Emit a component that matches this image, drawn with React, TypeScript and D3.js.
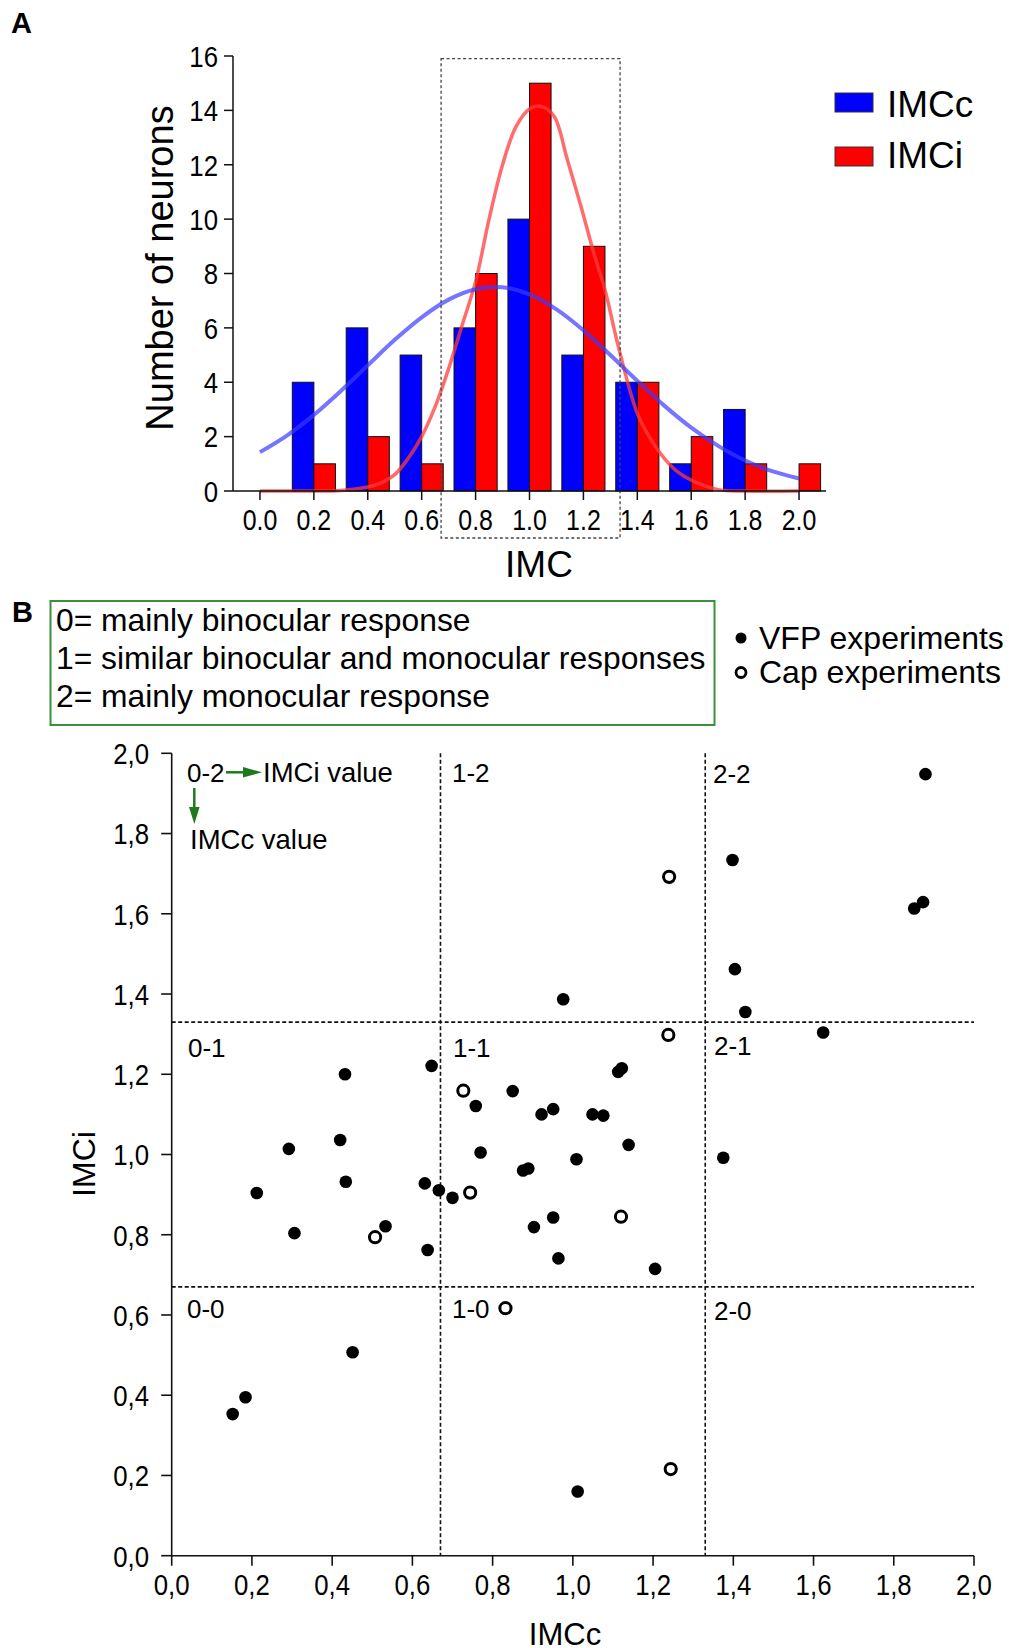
import React from "react";
import * as d3 from "d3";

// ---- Panel A: histogram of IMC values ----
const bins = [0.0, 0.2, 0.4, 0.6, 0.8, 1.0, 1.2, 1.4, 1.6, 1.8, 2.0];
const imccCounts = [0, 4, 6, 5, 6, 10, 5, 4, 1, 3, 0];
const imciCounts = [0, 1, 2, 1, 8, 15, 9, 4, 2, 1, 1];
const histYTicks = [0, 2, 4, 6, 8, 10, 12, 14, 16];

// fitted curves
const imccFitX = [0, 0.1, 0.2, 0.3, 0.4, 0.5, 0.6, 0.7, 0.8, 0.9, 1.0, 1.1, 1.2, 1.3, 1.4, 1.5, 1.6, 1.7, 1.8, 1.9, 2.0];
const imccFitY = [1.43, 2.04, 2.8, 3.68, 4.62, 5.56, 6.39, 7.04, 7.42, 7.49, 7.23, 6.68, 5.91, 5.0, 4.05, 3.14, 2.33, 1.66, 1.12, 0.73, 0.46];
const imciFitX = [0, 0.2, 0.3, 0.4, 0.45, 0.5, 0.55, 0.6, 0.65, 0.7, 0.75, 0.8, 0.85, 0.9, 0.95, 1.0, 1.04, 1.09, 1.14, 1.19, 1.24, 1.28, 1.33, 1.4, 1.45, 1.5, 1.55, 1.6, 1.7, 1.8, 2.0];
const imciFitY = [0, 0, 0.02, 0.15, 0.3, 0.6, 1.2, 2.0, 3.1, 4.5, 6.1, 7.7, 10.0, 12.0, 13.4, 14.05, 14.15, 13.8, 12.2, 10.5, 8.7, 7.4, 5.3, 2.85, 1.9, 1.2, 0.7, 0.4, 0.05, 0, 0];

// ---- Panel B: IMCc vs IMCi scatter ----
const vfpX = [1.879, 1.398, 1.873, 1.851, 1.404, 0.976, 1.43, 1.624, 0.432, 0.648, 0.758, 0.85, 0.922, 0.951, 0.292, 0.42, 0.77, 1.009, 0.212, 0.434, 0.631, 0.666, 0.7, 0.876, 0.889, 0.306, 0.533, 0.638, 0.903, 0.951, 0.964, 1.113, 1.122, 1.049, 1.076, 1.139, 1.375, 1.205, 0.152, 0.184, 0.451, 1.012];
const vfpY = [1.948, 1.734, 1.629, 1.613, 1.462, 1.387, 1.355, 1.304, 1.2, 1.221, 1.121, 1.158, 1.1, 1.113, 1.014, 1.036, 1.005, 0.988, 0.904, 0.932, 0.928, 0.911, 0.892, 0.96, 0.965, 0.804, 0.821, 0.762, 0.819, 0.843, 0.741, 1.206, 1.215, 1.1, 1.097, 1.024, 0.992, 0.715, 0.353, 0.395, 0.507, 0.16];
const capX = [1.24, 1.238, 0.727, 0.744, 0.507, 1.12, 0.832, 1.244];
const capY = [1.692, 1.298, 1.159, 0.905, 0.794, 0.845, 0.617, 0.216];
const scatterTicks = [0, 0.2, 0.4, 0.6, 0.8, 1.0, 1.2, 1.4, 1.6, 1.8, 2.0];
const thresholds = [0.67, 1.33];
const legendLines = [
  "0= mainly binocular response",
  "1= similar binocular and monocular responses",
  "2= mainly monocular response",
];

const SANS = "'Liberation Sans', Arial, sans-serif";
const GREEN = "#1f7a1f";

// condensed tick label (the original uses a narrow face)
function Tick({ x, y, anchor, size, children, dy }: any) {
  return (
    <g transform={`translate(${x},${y}) scale(0.86,1)`}>
      <text x={0} y={0} dy={dy} textAnchor={anchor} fontSize={size}>
        {children}
      </text>
    </g>
  );
}

export default function App() {
  const W = 1009;
  const H = 1648;

  // histogram scales
  const hx = d3.scaleLinear().domain([-0.1, 2.1]).range([233, 826]);
  const hy = d3.scaleLinear().domain([0, 16]).range([491, 56]);
  const barW = 0.08;

  const fitLine = d3
    .line<[number, number]>()
    .x((d) => hx(d[0]))
    .y((d) => hy(d[1]))
    .curve(d3.curveCatmullRom);
  const imccPath = fitLine(imccFitX.map((x, i) => [x, imccFitY[i]]))!;
  const imciPath = fitLine(imciFitX.map((x, i) => [x, imciFitY[i]]))!;

  // scatter scales
  const sx = d3.scaleLinear().domain([0, 2]).range([171.7, 974]);
  const sy = d3.scaleLinear().domain([0, 2]).range([1555.7, 753.3]);
  const comma = (v: number) => v.toFixed(1).replace(".", ",");

  const quadLabels = [
    { t: "0-2", x: 187, y: 782 },
    { t: "1-2", x: 452, y: 782 },
    { t: "2-2", x: 713, y: 783 },
    { t: "0-1", x: 188, y: 1057 },
    { t: "1-1", x: 453, y: 1057 },
    { t: "2-1", x: 714, y: 1055 },
    { t: "0-0", x: 187, y: 1318 },
    { t: "1-0", x: 452, y: 1318 },
    { t: "2-0", x: 714, y: 1320 },
  ];

  return (
    <svg
      width={W}
      height={H}
      style={{ position: "absolute", left: 0, top: 0, display: "block", background: "#fff" }}
      fontFamily={SANS}
    >
      <rect width={W} height={H} fill="#fff" />

      {/* ---------- Panel A ---------- */}
      <text x={11} y={33} fontSize={29} fontWeight="bold">A</text>

      {/* bars */}
      {bins.map((b, i) => (
        <g key={"bar" + i}>
          {imccCounts[i] > 0 && (
            <rect
              x={hx(b - barW)}
              y={hy(imccCounts[i])}
              width={hx(b) - hx(b - barW)}
              height={hy(0) - hy(imccCounts[i])}
              fill="#0000ff"
              stroke="#111"
              strokeWidth={1}
            />
          )}
          {imciCounts[i] > 0 && (
            <rect
              x={hx(b)}
              y={hy(imciCounts[i])}
              width={hx(b + barW) - hx(b)}
              height={hy(0) - hy(imciCounts[i])}
              fill="#ff0000"
              stroke="#111"
              strokeWidth={1}
            />
          )}
        </g>
      ))}

      {/* fitted curves */}
      <path d={imciPath} fill="none" stroke="#ff3b3b" strokeOpacity={0.75} strokeWidth={3.5} />
      <path d={imccPath} fill="none" stroke="#3b3bff" strokeOpacity={0.7} strokeWidth={4} />

      {/* dashed selection box */}
      <rect
        x={hx(0.672)}
        y={hy(15.9)}
        width={hx(1.336) - hx(0.672)}
        height={538 - hy(15.9)}
        fill="none"
        stroke="#444"
        strokeWidth={1.3}
        strokeDasharray="3,2.5"
      />

      {/* axes */}
      <line x1={hx.range()[0]} x2={hx.range()[0]} y1={hy(16)} y2={hy(0)} stroke="#111" strokeWidth={1.5} />
      <line x1={hx.range()[0]} x2={hx.range()[1]} y1={hy(0)} y2={hy(0)} stroke="#111" strokeWidth={1.5} />
      {histYTicks.map((t) => (
        <g key={"hyt" + t}>
          <line x1={224} x2={233} y1={hy(t)} y2={hy(t)} stroke="#111" strokeWidth={1.5} />
          <Tick x={218} y={hy(t)} dy="0.36em" anchor="end" size={30}>
            {t}
          </Tick>
        </g>
      ))}
      {bins.map((t) => (
        <g key={"hxt" + t}>
          <line x1={hx(t)} x2={hx(t)} y1={hy(0)} y2={hy(0) + 9} stroke="#111" strokeWidth={1.5} />
          <Tick x={hx(t)} y={530} anchor="middle" size={29}>
            {t.toFixed(1)}
          </Tick>
        </g>
      ))}
      <text x={539} y={577} textAnchor="middle" fontSize={37}>IMC</text>
      <text transform="translate(173,268) rotate(-90)" textAnchor="middle" fontSize={38}>
        Number of neurons
      </text>

      {/* legend A */}
      <rect x={835} y={93} width={38} height={19} fill="#0000ff" stroke="#333" strokeWidth={1} />
      <text x={887} y={117} fontSize={37}>IMCc</text>
      <rect x={835} y={147} width={38} height={19} fill="#ff0000" stroke="#333" strokeWidth={1} />
      <text x={887} y={168} fontSize={37}>IMCi</text>

      {/* ---------- Panel B ---------- */}
      <text x={12} y={622} fontSize={29} fontWeight="bold">B</text>

      <rect x={50.5} y={601} width={664} height={124} fill="none" stroke="#3a8f3a" strokeWidth={2} />
      {legendLines.map((l, i) => (
        <text key={"ll" + i} x={56} y={631 + i * 38} fontSize={31.8}>
          {l}
        </text>
      ))}

      <circle cx={741} cy={638} r={5.5} fill="#000" />
      <text x={759} y={648.5} fontSize={32}>VFP experiments</text>
      <circle cx={741} cy={672.5} r={5} fill="#fff" stroke="#000" strokeWidth={2.8} />
      <text x={759} y={683} fontSize={32}>Cap experiments</text>

      {/* quadrant dashed lines */}
      {thresholds.map((t) => (
        <g key={"th" + t}>
          <line x1={sx(t)} x2={sx(t)} y1={sy(2)} y2={sy(0)} stroke="#111" strokeWidth={1.6} strokeDasharray="4,2.5" />
          <line x1={sx(0)} x2={sx(2)} y1={sy(t)} y2={sy(t)} stroke="#111" strokeWidth={1.6} strokeDasharray="4,2.5" />
        </g>
      ))}

      {/* axes B */}
      <line x1={sx(0)} x2={sx(0)} y1={sy(2)} y2={sy(0)} stroke="#111" strokeWidth={1.6} />
      <line x1={sx(0)} x2={sx(2)} y1={sy(0)} y2={sy(0)} stroke="#111" strokeWidth={1.6} />
      {scatterTicks.map((t) => (
        <g key={"st" + t}>
          <line x1={sx(0) - 10.5} x2={sx(0)} y1={sy(t)} y2={sy(t)} stroke="#111" strokeWidth={1.6} />
          <Tick x={149} y={sy(t)} dy="0.36em" anchor="end" size={30}>
            {comma(t)}
          </Tick>
          <line x1={sx(t)} x2={sx(t)} y1={sy(0)} y2={sy(0) + 10} stroke="#111" strokeWidth={1.6} />
          <Tick x={sx(t)} y={1595} anchor="middle" size={30}>
            {comma(t)}
          </Tick>
        </g>
      ))}
      <text x={565} y={1645} textAnchor="middle" fontSize={31}>IMCc</text>
      <text transform="translate(95,1164) rotate(-90)" textAnchor="middle" fontSize={32}>
        IMCi
      </text>

      {/* quadrant labels */}
      {quadLabels.map((q) => (
        <text key={q.t} x={q.x} y={q.y} fontSize={26}>
          {q.t}
        </text>
      ))}

      {/* annotation arrows */}
      <line x1={226} x2={246} y1={772.3} y2={772.3} stroke={GREEN} strokeWidth={2.5} />
      <path d="M243,767 L262,772.3 L243,777.6 Z" fill={GREEN} />
      <text x={263} y={782} fontSize={27.5}>IMCi value</text>
      <line x1={194.3} x2={194.3} y1={788} y2={810} stroke={GREEN} strokeWidth={2.5} />
      <path d="M189,807 L194.3,824 L199.6,807 Z" fill={GREEN} />
      <text x={190} y={849} fontSize={27.5}>IMCc value</text>

      {/* points */}
      {vfpX.map((x, i) => (
        <circle key={"v" + i} cx={sx(x)} cy={sy(vfpY[i])} r={6.3} fill="#000" />
      ))}
      {capX.map((x, i) => (
        <circle key={"c" + i} cx={sx(x)} cy={sy(capY[i])} r={5.6} fill="#fff" stroke="#000" strokeWidth={3} />
      ))}
    </svg>
  );
}
